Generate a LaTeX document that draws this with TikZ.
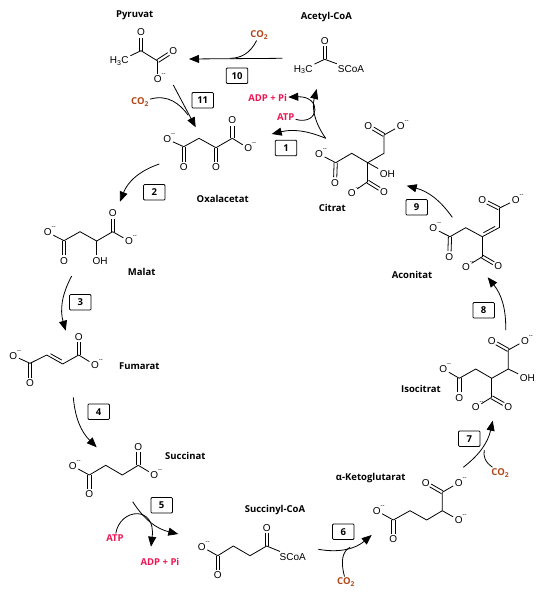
\documentclass[tikz,border=0pt]{standalone}
\usepackage{fontspec}
\setmainfont{Open Sans}
\newfontfamily\atomfont{Liberation Sans}
\usetikzlibrary{calc,arrows.meta}

\definecolor{atpred}{RGB}{238,22,82}
\definecolor{cotwo}{RGB}{178,70,24}

\tikzset{
  bond/.style={line width=0.8pt},
  react/.style={line width=0.8pt, -{Triangle[length=10pt,width=8pt]}},
  feed/.style={line width=0.8pt},
  atom/.style={inner sep=1.5pt, font=\atomfont\fontsize{10}{10}\selectfont},
  anion/.style={atom, label={[charge]42:{--}}},
  charge/.style={inner sep=0pt, label distance=-2.5pt, font=\atomfont\fontsize{6}{6}\selectfont},
  chemname/.style={font=\bfseries\fontsize{9.5}{10}\selectfont},
  stepbox/.style={draw, line width=0.8pt, rounded corners=1pt, minimum width=21.5pt, minimum height=15.5pt,
    inner sep=0pt, font=\bfseries\fontsize{9.5}{10}\selectfont},
  atp/.style={chemname, text=atpred, inner sep=1pt},
  gas/.style={chemname, text=cotwo, inner sep=1pt},
}

% C=O
\newcommand{\dbond}[2]{
  \draw[bond, shorten >=5.5pt] ($(#1)!1.6pt!90:(#2)$) -- ($(#2)!1.6pt!-90:(#1)$);
  \draw[bond, shorten >=5.5pt] ($(#1)!-1.6pt!90:(#2)$) -- ($(#2)!-1.6pt!-90:(#1)$);
}
% C=C
\newcommand{\cbond}[3]{
  \draw[bond] (#1) -- (#2);
  \draw[bond] ($($(#1)!.15!(#2)$)!#3!90:(#2)$) -- ($($(#2)!.15!(#1)$)!#3!-90:(#1)$);
}
% COO-
\newcommand{\coo}[4]{
  \coordinate (#1) at (#2);
  \node[atom] (#1d) at (#3) {O};
  \node[anion] (#1m) at (#4) {O};
  \draw[bond] (#1) -- (#1m);
  \dbond{#1}{#1d}
}

\begin{document}
\begin{tikzpicture}[x=1pt, y=-1pt]
  \useasboundingbox (0,0) rectangle (545,600);

  % Pyruvat
  \node[chemname] (pyrName) at (134.7,15) {Pyruvat};
  \node[atom] (pyrMe) at (119.3,61) {H\textsubscript{3}C};
  \coordinate (pyrK) at (141,50.7);
  \node[atom] (pyrO) at (141,32.3) {O};
  \coo{pyrC}{157.7,61}{173.3,51}{157.7,79}
  \draw[bond] (pyrMe) -- (pyrK) -- (pyrC);
  \dbond{pyrK}{pyrO}

  % Acetyl-CoA
  \node[chemname] (acoName) at (326.3,17.3) {Acetyl-CoA};
  \node[atom] (acoMe) at (303.3,69.3) {H\textsubscript{3}C};
  \coordinate (acoK) at (324.7,59.3);
  \node[atom] (acoO) at (324.7,40.7) {O};
  \node[atom] (acoS) at (351,69) {SCoA};
  \draw[bond] (acoMe) -- (acoK) -- (acoS);
  \dbond{acoK}{acoO}

  % Oxalacetat
  \node[chemname] (oxaName) at (222.7,199) {Oxalacetat};
  \coo{oxaA}{183.7,146.7}{183.7,167.3}{167.3,139.3}
  \coo{oxaB}{232.3,138.3}{232.3,120}{248.3,148.3}
  \coordinate (oxaH) at (199,138.3);
  \coordinate (oxaK) at (216,147.7);
  \node[atom] (oxaO) at (216,167.3) {O};
  \draw[bond] (oxaA) -- (oxaH) -- (oxaK) -- (oxaB);
  \dbond{oxaK}{oxaO}

  % Citrat
  \node[chemname] (citName) at (332.3,208.3) {Citrat};
  \coo{citA}{384,135}{368.3,125.7}{400.7,125.7}
  \coo{citB}{335.7,162.7}{335,182.7}{319,154}
  \coo{citC}{367.7,181.7}{384,191.7}{351.7,192.7}
  \coordinate (citX) at (367.7,162.7);
  \coordinate (citH) at (384,153.3);
  \coordinate (citI) at (351.7,153.3);
  \node[atom] (citOH) at (387.3,173.7) {OH};
  \draw[bond] (citA) -- (citH) -- (citX) -- (citI) -- (citB);
  \draw[bond] (citX) -- (citC);
  \draw[bond] (citX) -- (citOH);

  % Aconitat
  \node[chemname] (acnName) at (412,274.7) {Aconitat};
  \coo{acnA}{499,208.3}{482.3,200}{515.7,200}
  \coo{acnB}{450,236.7}{449.3,256.7}{433.3,228.3}
  \coo{acnC}{482.3,256.7}{498.3,266}{466,266.7}
  \coordinate (acnE) at (499,227.7);
  \coordinate (acnF) at (482.3,236.7);
  \coordinate (acnH) at (465.7,227.7);
  \draw[bond] (acnA) -- (acnE);
  \cbond{acnF}{acnE}{3pt}
  \draw[bond] (acnF) -- (acnH) -- (acnB);
  \draw[bond] (acnF) -- (acnC);

  % Isocitrat
  \node[chemname] (isoName) at (421,389.3) {Isocitrat};
  \coo{isoA}{508.3,350}{491.7,340.7}{525,340.7}
  \coo{isoB}{459.3,378.3}{459.3,397.7}{443.3,369}
  \coo{isoC}{491.7,397.3}{508.3,406.7}{475.7,407.3}
  \coordinate (isoD) at (508.3,369);
  \coordinate (isoX) at (491.7,378.3);
  \coordinate (isoH) at (475.7,369);
  \node[atom] (isoOH) at (527.3,378.3) {OH};
  \draw[bond] (isoA) -- (isoD) -- (isoX) -- (isoH) -- (isoB);
  \draw[bond] (isoX) -- (isoC);
  \draw[bond] (isoD) -- (isoOH);

  % alpha-Ketoglutarat
  \node[chemname] (ketName) at (370.7,477.7) {α-Ketoglutarat};
  \coo{ketA}{442.3,492.3}{425.7,482.7}{458.7,482.7}
  \coo{ketB}{393.3,520}{393.3,539.3}{376.7,510.7}
  \coordinate (ketD) at (442.3,510.7);
  \coordinate (ketE) at (426.7,520);
  \coordinate (ketF) at (410,510.7);
  \node[anion] (ketO) at (458.7,520) {O};
  \draw[bond] (ketA) -- (ketD) -- (ketE) -- (ketF) -- (ketB);
  \draw[bond] (ketD) -- (ketO);

  % Succinyl-CoA
  \node[chemname] (scoName) at (275,510) {Succinyl-CoA};
  \coo{scoA}{217.7,555.7}{217.7,575}{201.7,546.7}
  \coordinate (scoE) at (233.3,546);
  \coordinate (scoF) at (250,555.7);
  \coordinate (scoK) at (266.7,546);
  \node[atom] (scoO) at (266.7,527.7) {O};
  \node[atom] (scoS) at (292.7,556.7) {SCoA};
  \draw[bond] (scoA) -- (scoE) -- (scoF) -- (scoK) -- (scoS);
  \dbond{scoK}{scoO}

  % Succinat
  \node[chemname] (sucName) at (185.3,455.7) {Succinat};
  \coo{sucA}{89.3,475}{89.3,494}{72.7,466}
  \coo{sucB}{138.3,465.3}{138.3,446.7}{154.3,475}
  \coordinate (sucE) at (105.7,465.3);
  \coordinate (sucF) at (122.3,475);
  \draw[bond] (sucA) -- (sucE) -- (sucF) -- (sucB);

  % Fumarat
  \node[chemname] (fumName) at (139.3,366) {Fumarat};
  \coo{fumA}{30,363.3}{30,383.3}{13.3,355.7}
  \coo{fumB}{78.7,355}{78.7,336.7}{95,365}
  \coordinate (fumE) at (46.7,355);
  \coordinate (fumF) at (62.7,364);
  \draw[bond] (fumA) -- (fumE);
  \cbond{fumE}{fumF}{3pt}
  \draw[bond] (fumF) -- (fumB);

  % Malat
  \node[chemname] (malName) at (141.7,271.7) {Malat};
  \coo{malA}{64,240.7}{64,260.7}{47.7,232.3}
  \coo{malB}{112.7,231.7}{112.7,213.3}{129,241}
  \coordinate (malE) at (80,231.7);
  \coordinate (malF) at (96.7,241);
  \node[atom] (malOH) at (100,260.7) {OH};
  \draw[bond] (malA) -- (malE) -- (malF) -- (malB);
  \draw[bond] (malF) -- (malF |- malOH.north);

  % Schritte
  \node[stepbox] (box1) at (286,148) {1};
  \node[stepbox] (box2) at (154.3,192.3) {2};
  \node[stepbox] (box3) at (80.3,302.3) {3};
  \node[stepbox] (box4) at (98.7,411.7) {4};
  \node[stepbox] (box5) at (161.7,505.3) {5};
  \node[stepbox] (box6) at (343.3,531.7) {6};
  \node[stepbox] (box7) at (469.3,438.7) {7};
  \node[stepbox] (box8) at (483.7,310.3) {8};
  \node[stepbox] (box9) at (416.7,207.3) {9};
  \node[stepbox] (box10) at (237,75.7) {10};
  \node[stepbox] (box11) at (202.7,100.3) {11};

  % Cofaktoren
  \node[gas] (co2a) at (259.3,35) {CO\textsubscript{2}};
  \node[gas] (co2b) at (140,102) {CO\textsubscript{2}};
  \node[gas] (co2c) at (500.3,472.7) {CO\textsubscript{2}};
  \node[gas] (co2d) at (346,582) {CO\textsubscript{2}};
  \node[atp] (atpa) at (285.7,116.7) {ATP};
  \node[atp] (adpa) at (267.7,97.7) {ADP + Pi};
  \node[atp] (atpb) at (115,538) {ATP};
  \node[atp] (adpb) at (160,561.7) {ADP + Pi};

  % Pfeile
  \coordinate (s1) at (325.7,138.3);
  \coordinate (e1) at (271.7,134);
  \coordinate (e1b) at (316.7,89);
  \coordinate (s2) at (159.3,164);
  \coordinate (e2) at (120,201.7);
  \coordinate (s3) at (71.7,276);
  \coordinate (e3) at (65.7,330.7);
  \coordinate (s4) at (73.3,397.3);
  \coordinate (e4) at (96.7,447.3);
  \coordinate (s5) at (132.7,501.7);
  \coordinate (e5) at (178.3,534);
  \coordinate (e5b) at (151,546.7);
  \coordinate (s6) at (318.3,549.3);
  \coordinate (e6) at (371.7,535);
  \coordinate (m6) at (350,547.3);
  \coordinate (s7) at (463.3,467.3);
  \coordinate (e7) at (492.7,420.7);
  \coordinate (m7) at (484.3,450);
  \coordinate (s8) at (505.7,330);
  \coordinate (e8) at (487.7,277.3);
  \coordinate (s9) at (452.3,217.3);
  \coordinate (e9) at (406.7,185.7);
  \coordinate (s10) at (282.3,58.3);
  \coordinate (e10) at (189,59);
  \coordinate (m10) at (230,58.3);
  \coordinate (s11) at (173.3,85);
  \coordinate (e11) at (195.7,127.3);
  \coordinate (m11) at (188,115);

  \draw[react] (s1) to[bend right=18] (e1);
  \draw[react] (s1) to[bend left=25] (e1b);
  \draw[react] (atpa) .. controls (320,126) and (322,96) .. (adpa);
  \draw[react] (s2) to[bend right=25] (e2);
  \draw[react] (s3) to[bend right=22] (e3);
  \draw[react] (s4) to[bend right=20] (e4);
  \draw[react] (s5) to[bend right=22] (e5);
  \draw[react] (atpb) .. controls (120,508) and (156,505) .. (e5b);
  \draw[react] (s6) to[bend right=25] (e6);
  \draw[feed] (co2d) .. controls (340,560) and (343,551) .. (m6);
  \draw[react] (s7) to[bend right=20] (e7);
  \draw[feed] (co2c) .. controls (485,462) and (483,456) .. (m7);
  \draw[react] (s8) to[bend right=20] (e8);
  \draw[react] (s9) to[bend right=20] (e9);
  \draw[react] (s10) -- (e10);
  \draw[feed] (co2a) .. controls (250,54) and (240,58.3) .. (m10);
  \draw[react] (s11) -- (e11);
  \draw[feed] (co2b) .. controls (168,94) and (180,104) .. (m11);
\end{tikzpicture}
\end{document}
